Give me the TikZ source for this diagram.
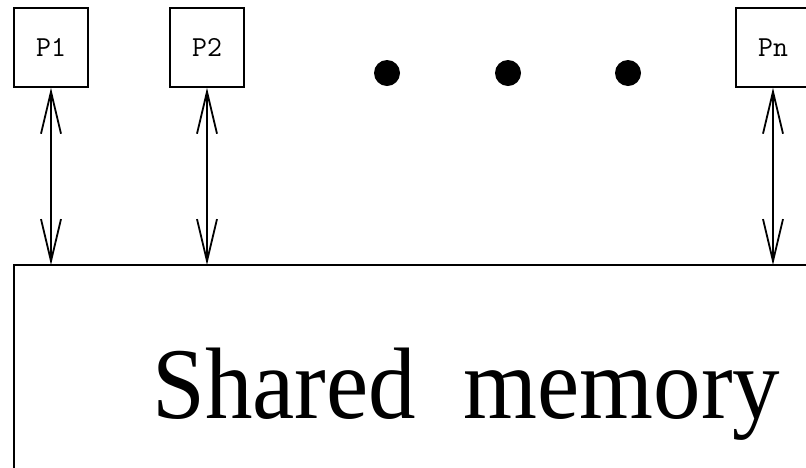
\documentclass[tikz,border=0pt]{standalone}
\usepackage{fontspec}
\setmainfont{Liberation Serif}
\usetikzlibrary{arrows.meta}
\begin{document}
\begin{tikzpicture}[x=1pt,y=-1pt,
  proc/.style={draw,line width=1.6pt,minimum width=74pt,minimum height=79pt,inner sep=0pt,font=\ttfamily\fontsize{29}{29}\selectfont},
  link/.style={line width=1.3pt,{Straight Barb[length=42pt,width=20pt,line width=1.8pt]}-{Straight Barb[length=42pt,width=20pt,line width=1.8pt]}},
  dot/.style={circle,fill=black,minimum size=26pt,inner sep=0pt}]
\useasboundingbox (0,0) rectangle (806,467);
\node[proc] (p1) at (51,47.5) {P1};
\node[proc] (p2) at (207,47.5) {P2};
\node[proc] (pn) at (773,47.5) {Pn};
\node[dot] (d1) at (387,73) {};
\node[dot] (d2) at (508,73) {};
\node[dot] (d3) at (628,73) {};
\draw[line width=1.6pt] (14,520) -- (14,265) -- (840,265);
\coordinate (m1) at (p1.south |- 0,265);
\coordinate (m2) at (p2.south |- 0,265);
\coordinate (mn) at (pn.south |- 0,265);
\draw[link] (p1.south) -- (m1);
\draw[link] (p2.south) -- (m2);
\draw[link] (pn.south) -- (mn);
\node[anchor=base west,font=\fontsize{95}{95}\selectfont,inner sep=0pt] (mem) at (152,418) {\scalebox{1}[1.07]{Shared\ \ memory}};
\end{tikzpicture}
\end{document}
